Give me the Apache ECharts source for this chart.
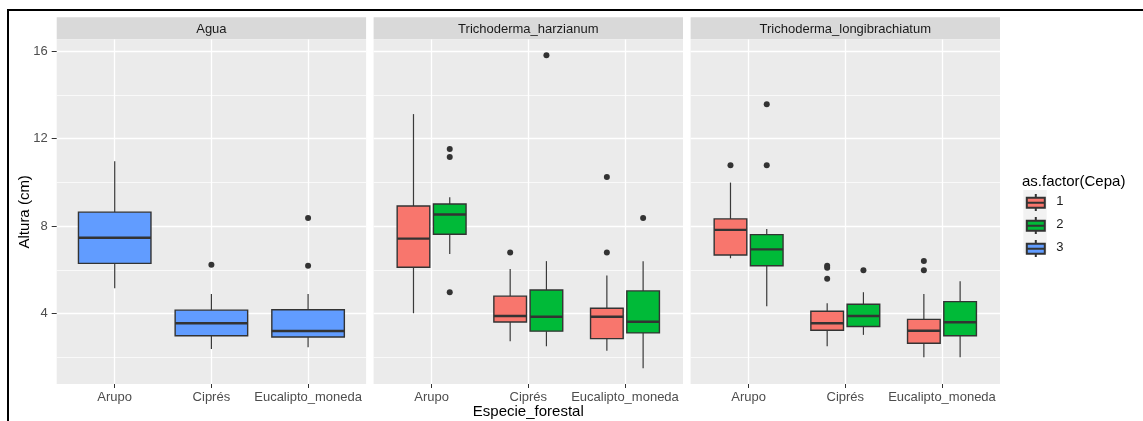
<!DOCTYPE html>
<html>
<head>
<meta charset="utf-8">
<script src="https://cdn.jsdelivr.net/npm/echarts@6/dist/echarts.min.js"></script>
<style>
html,body{margin:0;padding:0;background:#fff;}
#chart{width:1143px;height:421px;}
</style>
</head>
<body>
<div id="chart"></div>
<script>
// ---------- DATA ----------
const categories = ['Arupo', 'Ciprés', 'Eucalipto_moneda'];
const panels = ['Agua', 'Trichoderma_harzianum', 'Trichoderma_longibrachiatum'];
const cepas = ['1', '2', '3'];
const yTicks = [4, 8, 12, 16];
const yRange = [0.785, 16.525];

// five-number summaries per category: [lower whisker, Q1, median, Q3, upper whisker]
const agua3 = [[5.16, 6.30, 7.47, 8.64, 10.97], [2.39, 2.99, 3.56, 4.16, 4.90], [2.46, 2.93, 3.21, 4.18, 4.90]];
const agua3Out = [[], [6.23], [8.37, 6.19]];

const harz1 = [[4.02, 6.12, 7.43, 8.92, 13.12], [2.74, 3.62, 3.89, 4.80, 6.04], [2.31, 2.86, 3.86, 4.25, 5.74]];
const harz1Out = [[], [6.79], [10.24, 6.79]];
const harz2 = [[6.73, 7.63, 8.53, 9.01, 9.32], [2.51, 3.20, 3.86, 5.08, 6.40], [1.50, 3.12, 3.63, 5.04, 6.40]];
const harz2Out = [[11.52, 11.16, 4.98], [15.81], [8.37]];

const long1 = [[6.53, 6.68, 7.83, 8.33, 9.99], [2.51, 3.24, 3.56, 4.11, 4.48], [2.01, 2.65, 3.22, 3.74, 4.90]];
const long1Out = [[10.78], [6.19, 6.10, 5.60], [6.41, 5.98]];
const long2 = [[4.34, 6.19, 6.94, 7.61, 7.87], [3.03, 3.41, 3.89, 4.43, 4.98], [2.01, 2.99, 3.61, 4.55, 5.48]];
const long2Out = [[13.57, 10.78], [5.98], []];

// ---------- STYLE / LAYOUT ----------
const FONT = '"Liberation Sans", Arial, sans-serif';
const colors = { '1': '#F8766D', '2': '#00BA38', '3': '#619CFF' };
const panelLeft = [56.7, 373.6, 690.6];
const panelW = 309.4;
const panelTop = 39.6;
const panelH = 344.4;
const stripTop = 17.3;

const groups = [
  [{ cepa: '3', stats: agua3, out: agua3Out }],
  [{ cepa: '1', stats: harz1, out: harz1Out }, { cepa: '2', stats: harz2, out: harz2Out }],
  [{ cepa: '1', stats: long1, out: long1Out }, { cepa: '2', stats: long2, out: long2Out }]
];

function boxRender(offFrac, wFrac) {
  return function (params, api) {
    const xv = api.value(0);
    const band = api.size([1, 0])[0];
    const c = api.coord([xv, api.value(3)]);
    const cx = c[0] + band * offFrac;
    const w = band * wFrac;
    const yLo = api.coord([xv, api.value(1)])[1];
    const yQ1 = api.coord([xv, api.value(2)])[1];
    const yMed = c[1];
    const yQ3 = api.coord([xv, api.value(4)])[1];
    const yHi = api.coord([xv, api.value(5)])[1];
    const fill = api.visual('color');
    const ln = { stroke: '#3a3a3a', lineWidth: 1.2 };
    return {
      type: 'group',
      children: [
        { type: 'line', shape: { x1: cx, y1: yHi, x2: cx, y2: yQ3 }, style: ln },
        { type: 'line', shape: { x1: cx, y1: yQ1, x2: cx, y2: yLo }, style: ln },
        { type: 'rect', shape: { x: cx - w / 2, y: yQ3, width: w, height: yQ1 - yQ3 }, style: { fill: fill, stroke: '#333333', lineWidth: 1.4 } },
        { type: 'line', shape: { x1: cx - w / 2, y1: yMed, x2: cx + w / 2, y2: yMed }, style: { stroke: '#333333', lineWidth: 2.4 } }
      ]
    };
  };
}
function outRender(offFrac) {
  return function (params, api) {
    const band = api.size([1, 0])[0];
    const p = api.coord([api.value(0), api.value(1)]);
    return { type: 'circle', shape: { cx: p[0] + band * offFrac, cy: p[1], r: 3 }, style: { fill: '#333333' } };
  };
}

const grids = [], xAxes = [], yAxes = [], series = [], graphics = [];
panels.forEach((pname, gi) => {
  grids.push({ left: panelLeft[gi], top: panelTop, width: panelW, height: panelH, show: true, backgroundColor: '#EBEBEB', borderWidth: 0, containLabel: false, outerBoundsMode: 'none' });
  xAxes.push({
    type: 'value', gridIndex: gi, min: 0.4, max: 3.6, minInterval: 1, maxInterval: 1,
    axisLine: { show: false },
    axisTick: { show: true, length: 4, customValues: categories.map((c, i) => i + 1), lineStyle: { color: '#333333', width: 1 } },
    axisLabel: { show: true, customValues: categories.map((c, i) => i + 1), margin: 7, color: '#4D4D4D', fontSize: 13, fontFamily: FONT,
      hideOverlap: false, formatter: v => categories[Math.round(v) - 1] || '' },
    splitLine: { show: true, lineStyle: { color: '#FFFFFF', width: 1.3 } },
    name: gi === 1 ? 'Especie_forestal' : '', nameLocation: 'middle', nameGap: 20, nameMoveOverlap: false,
    nameTextStyle: { fontSize: 15, color: '#000', fontFamily: FONT }
  });
  yAxes.push({
    type: 'value', gridIndex: gi, min: yRange[0], max: yRange[1], minInterval: 4, maxInterval: 4,
    axisLine: { show: false },
    axisTick: { show: gi === 0, length: 5, customValues: yTicks, lineStyle: { color: '#333333', width: 1 } },
    axisLabel: { show: gi === 0, customValues: yTicks, margin: 9, color: '#4D4D4D', fontSize: 13, fontFamily: FONT },
    splitLine: { show: true, lineStyle: { color: '#FFFFFF', width: 1.3 } },
    minorTick: { show: false, splitNumber: 2 },
    minorSplitLine: { show: true, lineStyle: { color: '#FFFFFF', width: 0.7 } },
    name: gi === 0 ? 'Altura (cm)' : '', nameLocation: 'middle', nameGap: 24, nameRotate: 90, nameMoveOverlap: false,
    nameTextStyle: { fontSize: 15, color: '#000', fontFamily: FONT }
  });
  const g = groups[gi];
  const dodged = g.length > 1;
  g.forEach((grp, k) => {
    const off = dodged ? (k === 0 ? -0.1875 : 0.1875) : 0;
    const wf = dodged ? 0.3375 : 0.75;
    series.push({
      type: 'custom', name: grp.cepa, xAxisIndex: gi, yAxisIndex: gi, z: 3,
      itemStyle: { color: colors[grp.cepa], borderColor: '#333333', borderWidth: 1.2 },
      encode: { x: 0, y: [1, 2, 3, 4, 5] },
      data: grp.stats.map((s, i) => [i + 1].concat(s)),
      renderItem: boxRender(off, wf), silent: true
    });
    series.push({
      type: 'custom', name: 'out' + grp.cepa, xAxisIndex: gi, yAxisIndex: gi, z: 4,
      encode: { x: 0, y: 1 },
      data: grp.out.flatMap((vals, i) => vals.map(v => [i + 1, v])),
      renderItem: outRender(off), silent: true
    });
  });
  // facet strip
  graphics.push({ type: 'rect', left: panelLeft[gi], top: stripTop, shape: { width: panelW, height: panelTop - stripTop - 0.3 }, style: { fill: '#D9D9D9' }, silent: true });
  graphics.push({ type: 'text', x: panelLeft[gi] + panelW / 2, y: 29.5, style: { text: pname, fill: '#1A1A1A', font: '13px ' + FONT, align: 'center', verticalAlign: 'middle' }, silent: true });
});

// legend key background and outer frame
graphics.push({ type: 'rect', shape: { x: 1023.3, y: 190, width: 23.4, height: 63.3 }, style: { fill: '#F2F2F2' }, silent: true, z: -1 });
graphics.push({ type: 'line', shape: { x1: 7, y1: 10, x2: 1143, y2: 10 }, style: { stroke: '#000', lineWidth: 2 }, silent: true });
graphics.push({ type: 'line', shape: { x1: 8, y1: 9, x2: 8, y2: 421 }, style: { stroke: '#000', lineWidth: 2 }, silent: true });

const legendIcon = 'path://M0,0M23,21M11.5,3L11.5,6.7M2.5,6.7H20.5V11.7H2.5ZM2.5,11.7H20.5V16.7H2.5ZM11.5,16.7L11.5,20';

const option = {
  animation: false,
  backgroundColor: '#FFFFFF',
  textStyle: { fontFamily: FONT },
  title: { text: 'as.factor(Cepa)', left: 1022, top: 174, padding: 0, textStyle: { fontSize: 15, fontWeight: 'normal', color: '#000', fontFamily: FONT } },
  legend: {
    orient: 'vertical', left: 1023.3, top: 190, padding: 0, itemGap: 0, itemWidth: 23, itemHeight: 21,
    icon: legendIcon, data: cepas, selectedMode: false,
    textStyle: { fontSize: 13, color: '#1A1A1A', fontFamily: FONT, padding: [0, 0, 0, 4] }
  },
  grid: grids, xAxis: xAxes, yAxis: yAxes, series: series, graphic: graphics
};
const chart = echarts.init(document.getElementById('chart'), null, { renderer: 'canvas' });
chart.setOption(option);
</script>
</body>
</html>
